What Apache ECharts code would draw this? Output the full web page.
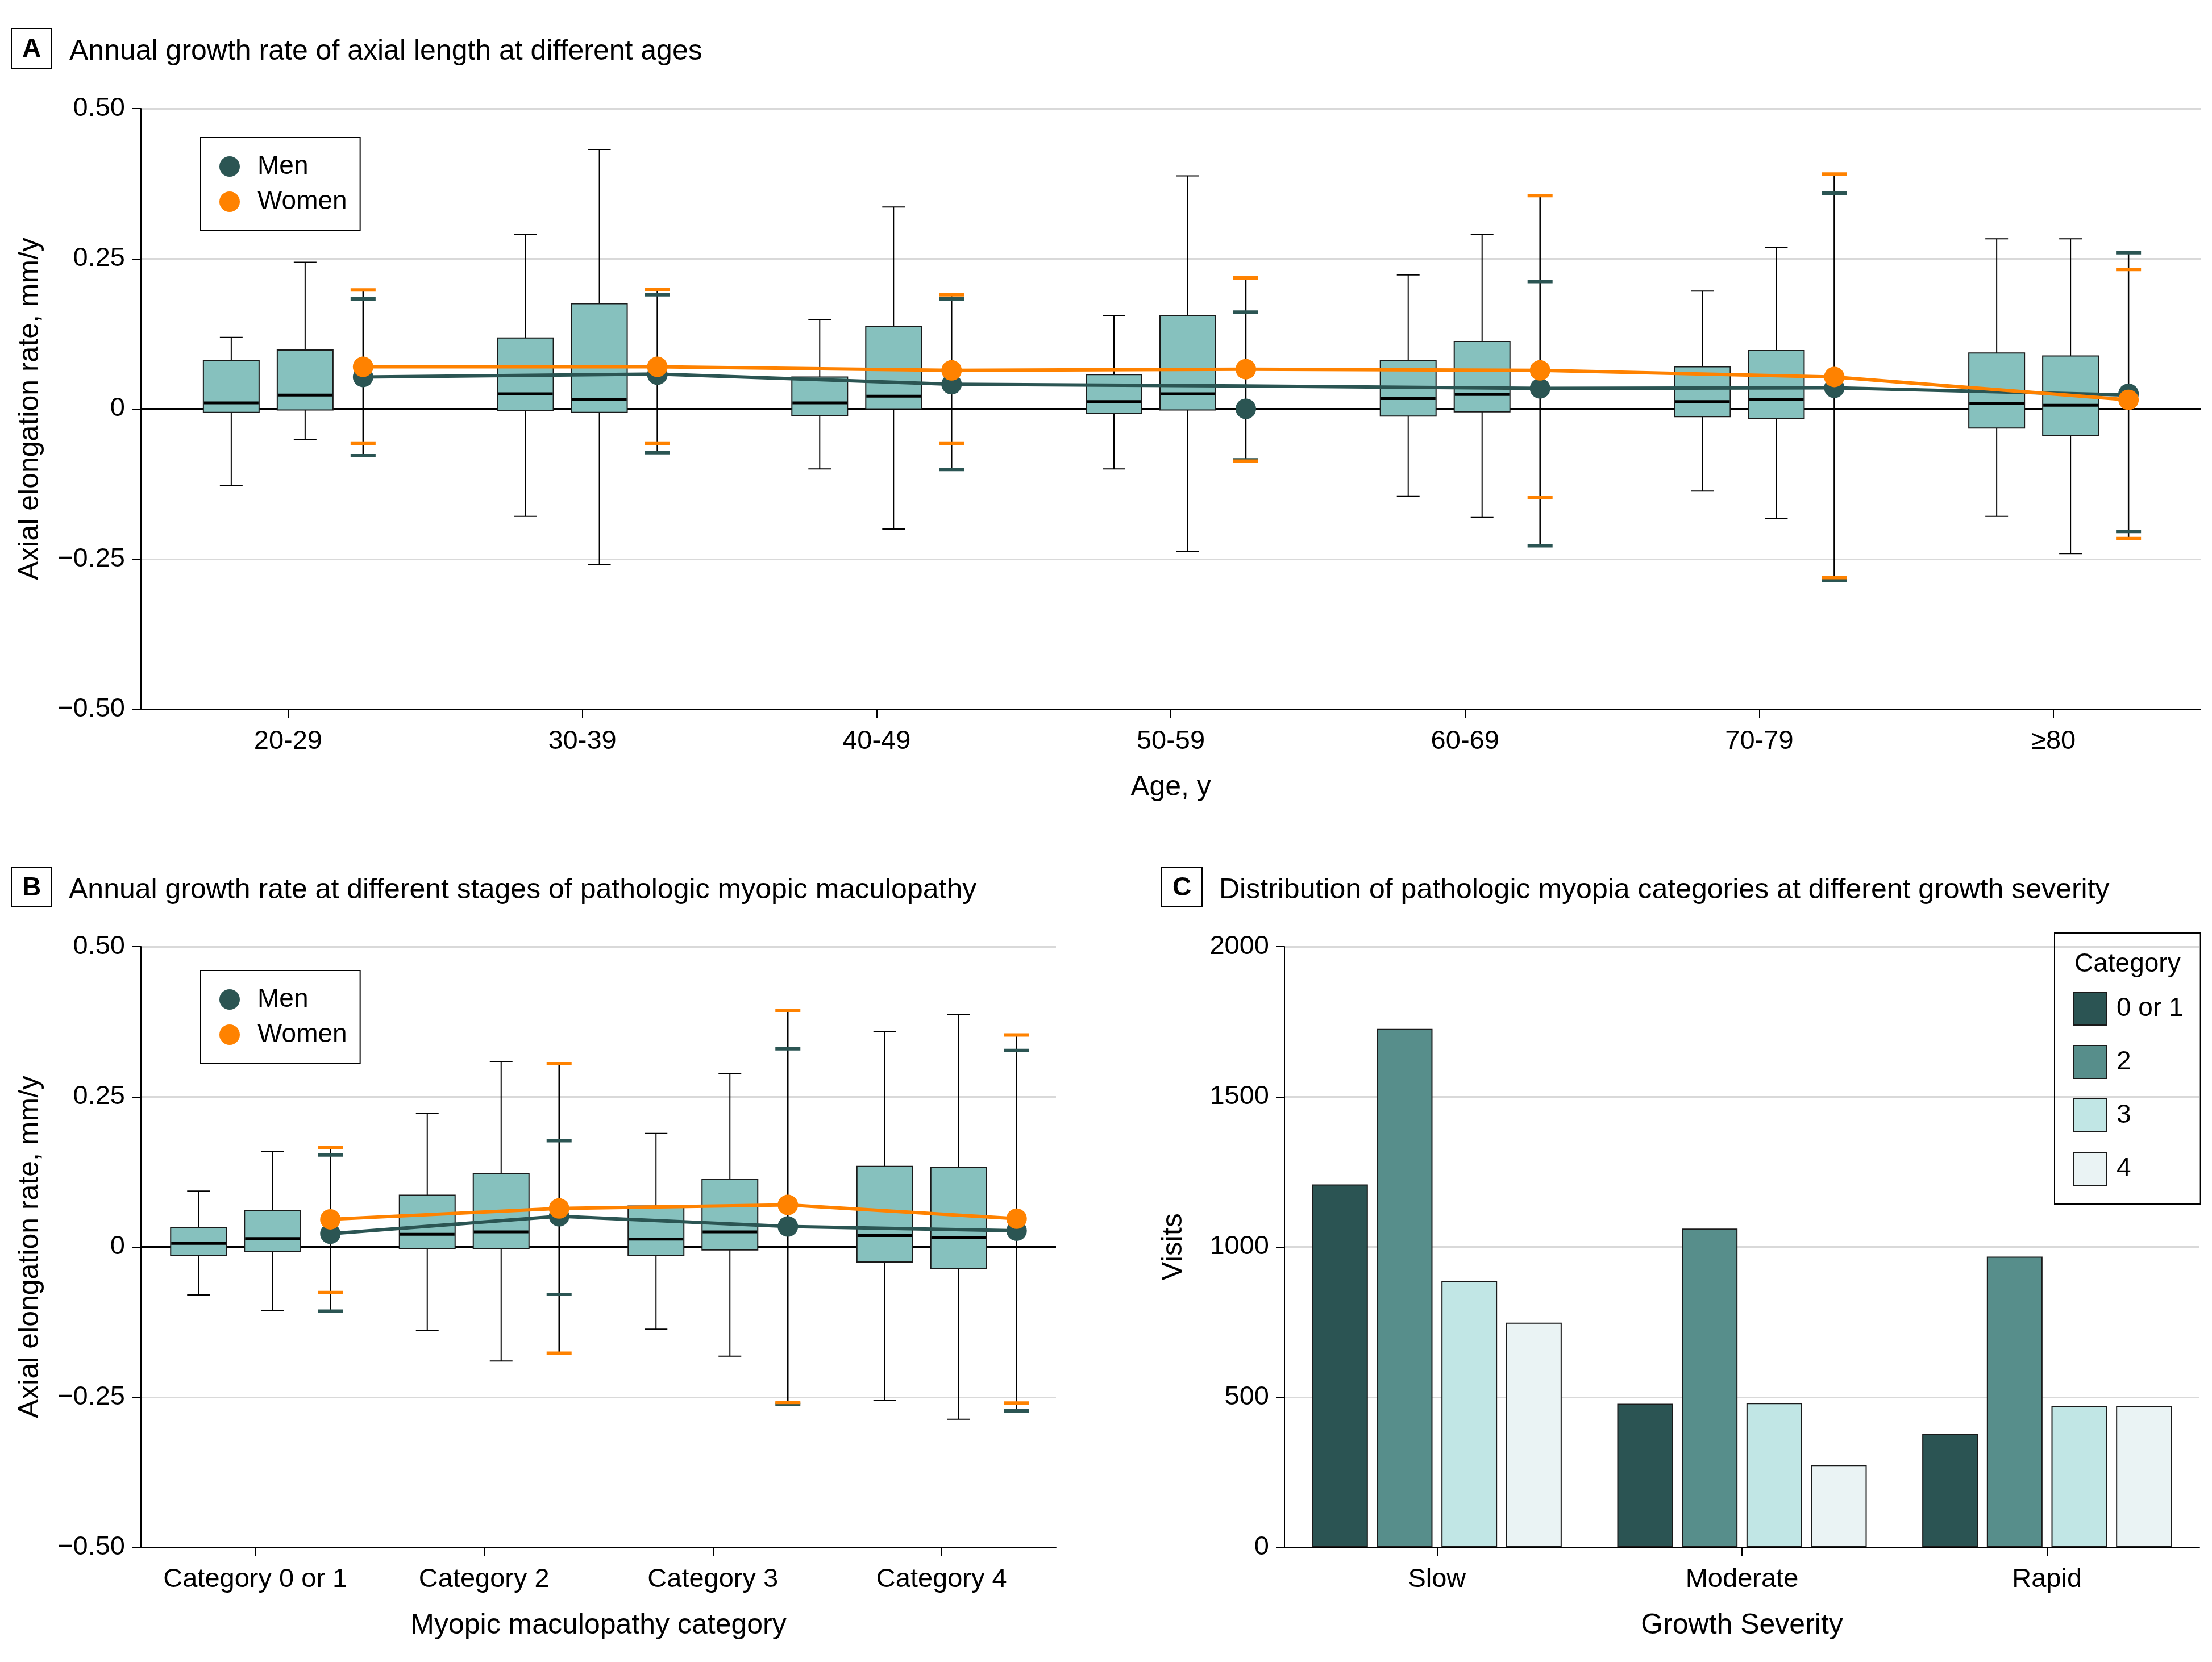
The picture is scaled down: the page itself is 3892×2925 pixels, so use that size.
<!DOCTYPE html>
<html>
<head>
<meta charset="utf-8">
<script src="https://cdn.jsdelivr.net/npm/echarts@6/dist/echarts.min.js"></script>
<style>
html,body{margin:0;padding:0;background:#fff;}
#chart{width:3892px;height:2925px;}
</style>
</head>
<body>
<div id="chart"></div>
<script>
// ---------------- DATA ----------------
// Panel A: age groups
const ageGroups = ['20-29', '30-39', '40-49', '50-59', '60-69', '70-79', '≥80'];
// box: [lower whisker, Q1, median, Q3, upper whisker]
const ageBoxMen = [
  [-0.128, -0.006, 0.010, 0.080, 0.119],
  [-0.179, -0.003, 0.025, 0.118, 0.290],
  [-0.100, -0.011, 0.010, 0.053, 0.149],
  [-0.100, -0.008, 0.012, 0.057, 0.155],
  [-0.146, -0.012, 0.017, 0.080, 0.223],
  [-0.137, -0.013, 0.012, 0.070, 0.196],
  [-0.179, -0.032, 0.009, 0.093, 0.283]
];
const ageBoxWomen = [
  [-0.051, -0.002, 0.023, 0.098, 0.244],
  [-0.259, -0.006, 0.016, 0.175, 0.432],
  [-0.200, 0.000, 0.021, 0.137, 0.336],
  [-0.238, -0.002, 0.025, 0.155, 0.388],
  [-0.181, -0.005, 0.024, 0.112, 0.290],
  [-0.183, -0.016, 0.016, 0.097, 0.269],
  [-0.241, -0.044, 0.006, 0.088, 0.283]
];
const ageMenMean  = [0.053, 0.057, 0.041, 0.000, 0.034, 0.035, 0.025];
const ageMenLow   = [-0.078, -0.073, -0.101, -0.085, -0.228, -0.286, -0.204];
const ageMenHigh  = [0.183, 0.190, 0.183, 0.161, 0.212, 0.359, 0.260];
const ageMenTrend = [0.053, 0.058, 0.041, 0.038, 0.034, 0.035, 0.023];
const ageWomenMean  = [0.070, 0.070, 0.064, 0.066, 0.064, 0.053, 0.015];
const ageWomenLow   = [-0.058, -0.058, -0.058, -0.087, -0.148, -0.281, -0.216];
const ageWomenHigh  = [0.198, 0.199, 0.190, 0.218, 0.355, 0.391, 0.232];
const ageWomenTrend = [0.070, 0.070, 0.064, 0.066, 0.064, 0.053, 0.015];

// Panel B: myopic maculopathy categories
const mmCategories = ['Category 0 or 1', 'Category 2', 'Category 3', 'Category 4'];
const mmBoxMen = [
  [-0.080, -0.014, 0.006, 0.032, 0.093],
  [-0.139, -0.003, 0.021, 0.086, 0.222],
  [-0.137, -0.014, 0.013, 0.068, 0.189],
  [-0.256, -0.025, 0.019, 0.134, 0.359]
];
const mmBoxWomen = [
  [-0.106, -0.007, 0.014, 0.060, 0.159],
  [-0.190, -0.003, 0.025, 0.122, 0.309],
  [-0.182, -0.005, 0.025, 0.112, 0.289],
  [-0.287, -0.036, 0.016, 0.133, 0.387]
];
const mmMenMean  = [0.022, 0.051, 0.034, 0.027];
const mmMenLow   = [-0.107, -0.079, -0.262, -0.273];
const mmMenHigh  = [0.153, 0.177, 0.330, 0.327];
const mmMenTrend = [0.022, 0.051, 0.034, 0.027];
const mmWomenMean  = [0.046, 0.064, 0.070, 0.047];
const mmWomenLow   = [-0.076, -0.177, -0.259, -0.260];
const mmWomenHigh  = [0.166, 0.305, 0.394, 0.353];
const mmWomenTrend = [0.046, 0.064, 0.070, 0.047];

// Panel C: visits by growth severity
const severity = ['Slow', 'Moderate', 'Rapid'];
const visitsCat01 = [1208, 478, 377];
const visitsCat2  = [1726, 1061, 968];
const visitsCat3  = [887, 480, 470];
const visitsCat4  = [748, 274, 471];
const categoryNames = ['0 or 1', '2', '3', '4'];

// tick labels
const rateTickLabels = ['−0.50', '−0.25', '0', '0.25', '0.50'];
const visitTickLabels = ['0', '500', '1000', '1500', '2000'];

// ---------------- STYLE ----------------
const FONT = '"Liberation Sans", Arial, sans-serif';
const MEN = '#2B5553';
const WOMEN = '#FF8200';
const BOX_FILL = '#86C1BE';
const BAR_COLORS = ['#2B5453', '#578E8B', '#C1E6E5', '#EAF3F4'];
const GRID_GRAY = '#D9D9D9';
const BOX_W = 98, CAP_W = 40, ERR_CAP_W = 44, PT_R = 18;
const OFF_BOX1 = -100, OFF_BOX2 = 30, OFF_ERR = 132;

function boxSeries(name, idx, boxes, off) {
  return {
    type: 'custom', name: name, xAxisIndex: idx, yAxisIndex: idx, z: 2,
    data: boxes.map((b, i) => [i].concat(b)),
    encode: { x: 0, y: [1, 2, 3, 4, 5] },
    renderItem: function (params, api) {
      const i = api.value(0);
      const cx = api.coord([i, 0])[0] + off;
      const y = k => api.coord([i, api.value(k)])[1];
      const yLow = y(1), yQ1 = y(2), yMed = y(3), yQ3 = y(4), yHigh = y(5);
      const hw = BOX_W / 2, cw = CAP_W / 2;
      const ls = { stroke: '#000', lineWidth: 2 };
      return { type: 'group', children: [
        { type: 'line', shape: { x1: cx, y1: yHigh, x2: cx, y2: yQ3 }, style: ls },
        { type: 'line', shape: { x1: cx, y1: yQ1, x2: cx, y2: yLow }, style: ls },
        { type: 'line', shape: { x1: cx - cw, y1: yHigh, x2: cx + cw, y2: yHigh }, style: ls },
        { type: 'line', shape: { x1: cx - cw, y1: yLow, x2: cx + cw, y2: yLow }, style: ls },
        { type: 'rect', shape: { x: cx - hw, y: yQ3, width: BOX_W, height: yQ1 - yQ3 },
          style: { fill: BOX_FILL, stroke: '#1a1a1a', lineWidth: 2 } },
        { type: 'line', shape: { x1: cx - hw + 1, y1: yMed, x2: cx + hw - 1, y2: yMed },
          style: { stroke: '#000', lineWidth: 5 } }
      ]};
    }
  };
}

function stemSeries(idx, mLow, mHigh, wLow, wHigh) {
  return {
    type: 'custom', name: 'stem', xAxisIndex: idx, yAxisIndex: idx, z: 3,
    data: mLow.map((v, i) => [i, Math.min(v, wLow[i]), Math.max(mHigh[i], wHigh[i])]),
    encode: { x: 0, y: [1, 2] },
    renderItem: function (params, api) {
      const i = api.value(0);
      const p1 = api.coord([i, api.value(1)]);
      const p2 = api.coord([i, api.value(2)]);
      return { type: 'line', shape: { x1: p1[0] + OFF_ERR, y1: p1[1], x2: p2[0] + OFF_ERR, y2: p2[1] },
        style: { stroke: '#000', lineWidth: 2.5 } };
    }
  };
}

function capSeries(name, idx, lows, highs, color, z) {
  return {
    type: 'custom', name: name, xAxisIndex: idx, yAxisIndex: idx, z: z,
    data: lows.map((v, i) => [i, v, highs[i]]),
    encode: { x: 0, y: [1, 2] },
    renderItem: function (params, api) {
      const i = api.value(0);
      const p1 = api.coord([i, api.value(1)]);
      const p2 = api.coord([i, api.value(2)]);
      const cx = p1[0] + OFF_ERR, hw = ERR_CAP_W / 2;
      const st = { stroke: color, lineWidth: 6 };
      return { type: 'group', children: [
        { type: 'line', shape: { x1: cx - hw, y1: p1[1], x2: cx + hw, y2: p1[1] }, style: st },
        { type: 'line', shape: { x1: cx - hw, y1: p2[1], x2: cx + hw, y2: p2[1] }, style: st }
      ]};
    }
  };
}

function trendSeries(name, idx, vals, color, z) {
  return {
    type: 'custom', name: name, xAxisIndex: idx, yAxisIndex: idx, z: z,
    data: vals.map((v, i) => [i, v, i + 1 < vals.length ? vals[i + 1] : v]),
    encode: { x: 0, y: [1, 2] },
    renderItem: function (params, api) {
      const i = api.value(0);
      if (i >= vals.length - 1) return { type: 'group', children: [] };
      const p1 = api.coord([i, api.value(1)]);
      const p2 = api.coord([i + 1, api.value(2)]);
      return { type: 'line', shape: { x1: p1[0] + OFF_ERR, y1: p1[1], x2: p2[0] + OFF_ERR, y2: p2[1] },
        style: { stroke: color, lineWidth: 6, lineCap: 'round' } };
    }
  };
}

function pointSeries(name, idx, vals, color, z) {
  return {
    type: 'custom', name: name, xAxisIndex: idx, yAxisIndex: idx, z: z,
    itemStyle: { color: color },
    data: vals.map((v, i) => [i, v]),
    encode: { x: 0, y: 1 },
    renderItem: function (params, api) {
      const p = api.coord([api.value(0), api.value(1)]);
      return { type: 'circle', shape: { cx: p[0] + OFF_ERR, cy: p[1], r: PT_R }, style: { fill: color } };
    }
  };
}

function rateYAxis(idx) {
  return {
    gridIndex: idx, type: 'value', min: -0.5, max: 0.5, interval: 0.25,
    name: 'Axial elongation rate, mm/y', nameLocation: 'middle', nameGap: 170,
    nameTextStyle: { fontSize: 50, fontFamily: FONT, color: '#000' },
    axisLine: { show: true, lineStyle: { color: '#000', width: 2 } },
    axisTick: { show: true, length: 15, lineStyle: { color: '#000', width: 2 } },
    axisLabel: { fontSize: 47, fontFamily: FONT, color: '#000', margin: 28,
      formatter: v => rateTickLabels[Math.round((v + 0.5) / 0.25)] },
    splitLine: { show: true, lineStyle: { color: ['#000', GRID_GRAY, '#000', GRID_GRAY, GRID_GRAY], width: 3 } }
  };
}

function catXAxis(idx, data, name) {
  return {
    gridIndex: idx, type: 'category', data: data,
    name: name, nameLocation: 'middle', nameGap: 113,
    nameTextStyle: { fontSize: 50, fontFamily: FONT, color: '#000' },
    axisLine: { show: true, onZero: false, lineStyle: { color: '#000', width: 2 } },
    axisTick: { show: true, alignWithLabel: true, interval: 0, length: 16, lineStyle: { color: '#000', width: 2 } },
    axisLabel: { fontSize: 47, fontFamily: FONT, color: '#000', margin: 34, interval: 0, hideOverlap: false },
    splitLine: { show: false }
  };
}

function panelTitle(letter, bx, by, tx, text) {
  return [
    { type: 'rect', shape: { x: bx, y: by, width: 71, height: 70 }, style: { fill: '#fff', stroke: '#000', lineWidth: 2 }, z: 100 },
    { type: 'text', x: bx + 35.5, y: by + 37, z: 101,
      style: { text: letter, font: 'bold 46px ' + FONT, fill: '#000', align: 'center', verticalAlign: 'middle', textAlign: 'center', textVerticalAlign: 'middle' } },
    { type: 'text', x: tx, y: by + 41, z: 101,
      style: { text: text, font: '50px ' + FONT, fill: '#000', align: 'left', verticalAlign: 'middle', textAlign: 'left', textVerticalAlign: 'middle' } }
  ];
}

const barSeries = [visitsCat01, visitsCat2, visitsCat3, visitsCat4].map((vals, k) => ({
  type: 'bar', name: categoryNames[k], xAxisIndex: 2, yAxisIndex: 2,
  data: vals, barWidth: 98, barGap: '16%',
  itemStyle: { color: BAR_COLORS[k], borderColor: '#1a1a1a', borderWidth: 2 }
}));

const sexLegend = (top) => ({
  data: [
    { name: 'Men', icon: 'circle', itemStyle: { color: MEN } },
    { name: 'Women', icon: 'circle', itemStyle: { color: WOMEN } }
  ],
  orient: 'vertical', left: 353, top: top,
  itemWidth: 36, itemHeight: 36, itemGap: 16,
  padding: [28, 23, 28, 33],
  borderColor: '#000', borderWidth: 2, borderRadius: 0,
  selectedMode: false,
  textStyle: { fontSize: 46, lineHeight: 46, fontFamily: FONT, color: '#000', padding: [0, 0, 0, 26] }
});

const option = {
  animation: false,
  backgroundColor: '#fff',
  textStyle: { fontFamily: FONT },
  grid: [
    { left: 248, top: 191, width: 3624, height: 1057 },
    { left: 248, top: 1666, width: 1610, height: 1057 },
    { left: 2260, top: 1666, width: 1610, height: 1057 }
  ],
  xAxis: [
    catXAxis(0, ageGroups, 'Age, y'),
    catXAxis(1, mmCategories, 'Myopic maculopathy category'),
    catXAxis(2, severity, 'Growth Severity')
  ],
  yAxis: [
    rateYAxis(0),
    rateYAxis(1),
    {
      gridIndex: 2, type: 'value', min: 0, max: 2000, interval: 500,
      name: 'Visits', nameLocation: 'middle', nameGap: 170,
      nameTextStyle: { fontSize: 50, fontFamily: FONT, color: '#000' },
      axisLine: { show: true, lineStyle: { color: '#000', width: 2 } },
      axisTick: { show: true, length: 15, lineStyle: { color: '#000', width: 2 } },
      axisLabel: { fontSize: 47, fontFamily: FONT, color: '#000', margin: 27,
        formatter: v => visitTickLabels[Math.round(v / 500)] },
      splitLine: { show: true, lineStyle: { color: GRID_GRAY, width: 3 } }
    }
  ],
  legend: [
    sexLegend(242),
    sexLegend(1708),
    {
      data: categoryNames.map(n => ({ name: n, icon: 'rect' })),
      orient: 'vertical', left: 3615, top: 1642,
      itemWidth: 58, itemHeight: 58, itemGap: 34,
      padding: [103, 30, 32, 33],
      borderColor: '#000', borderWidth: 2,
      selectedMode: false,
      itemStyle: { borderColor: '#1a1a1a', borderWidth: 2 },
      textStyle: { fontSize: 46, lineHeight: 46, fontFamily: FONT, color: '#000', padding: [0, 0, 0, 12] }
    }
  ],
  graphic: [].concat(
    panelTitle('A', 20, 50, 122, 'Annual growth rate of axial length at different ages'),
    panelTitle('B', 20, 1526, 121, 'Annual growth rate at different stages of pathologic myopic maculopathy'),
    panelTitle('C', 2044, 1526, 2145, 'Distribution of pathologic myopia categories at different growth severity'),
    [{ type: 'text', x: 3650, y: 1697, z: 101,
       style: { text: 'Category', font: '46px ' + FONT, fill: '#000', align: 'left', verticalAlign: 'middle', textAlign: 'left', textVerticalAlign: 'middle' } }]
  ),
  series: [
    boxSeries('Men distribution', 0, ageBoxMen, OFF_BOX1),
    boxSeries('Women distribution', 0, ageBoxWomen, OFF_BOX2),
    stemSeries(0, ageMenLow, ageMenHigh, ageWomenLow, ageWomenHigh),
    capSeries('Men CI', 0, ageMenLow, ageMenHigh, MEN, 4),
    capSeries('Women CI', 0, ageWomenLow, ageWomenHigh, WOMEN, 4),
    trendSeries('Men trend', 0, ageMenTrend, MEN, 5),
    trendSeries('Women trend', 0, ageWomenTrend, WOMEN, 6),
    pointSeries('Men', 0, ageMenMean, MEN, 7),
    pointSeries('Women', 0, ageWomenMean, WOMEN, 8),

    boxSeries('Men distribution', 1, mmBoxMen, OFF_BOX1),
    boxSeries('Women distribution', 1, mmBoxWomen, OFF_BOX2),
    stemSeries(1, mmMenLow, mmMenHigh, mmWomenLow, mmWomenHigh),
    capSeries('Men CI', 1, mmMenLow, mmMenHigh, MEN, 4),
    capSeries('Women CI', 1, mmWomenLow, mmWomenHigh, WOMEN, 4),
    trendSeries('Men trend', 1, mmMenTrend, MEN, 5),
    trendSeries('Women trend', 1, mmWomenTrend, WOMEN, 6),
    pointSeries('Men', 1, mmMenMean, MEN, 7),
    pointSeries('Women', 1, mmWomenMean, WOMEN, 8)
  ].concat(barSeries)
};

const chart = echarts.init(document.getElementById('chart'), null, { renderer: 'canvas', width: 3892, height: 2925 });
chart.setOption(option);
</script>
</body>
</html>
